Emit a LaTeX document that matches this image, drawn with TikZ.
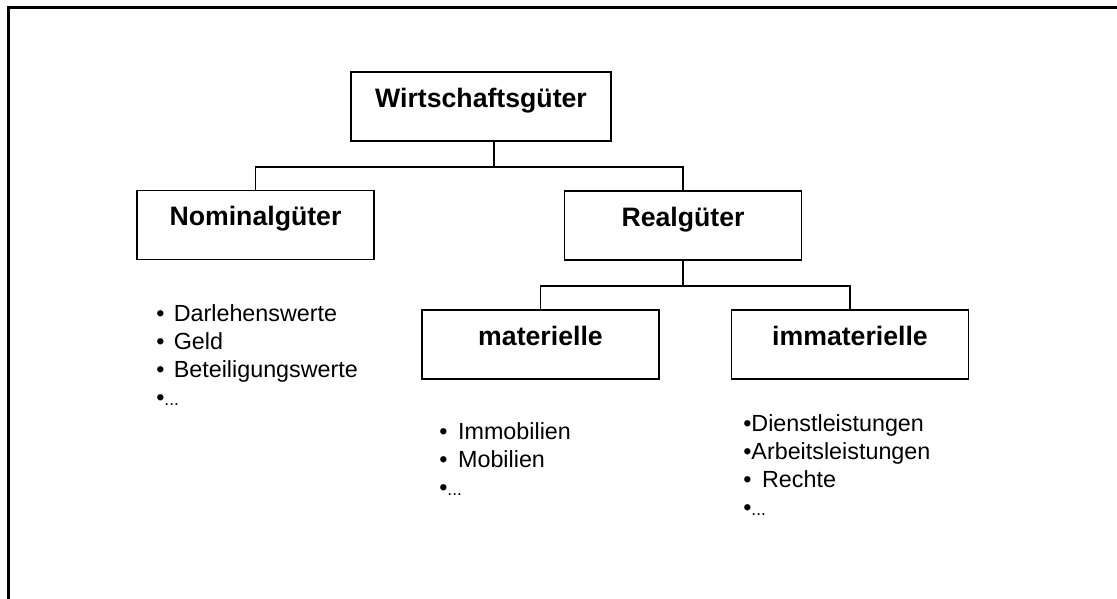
\documentclass[tikz,border=0pt]{standalone}
\usepackage{fontspec}
\setmainfont{Liberation Sans}
\begin{document}
\begin{tikzpicture}[x=0.75pt,y=-0.75pt,
  catbox/.style={draw, line width=1.1pt, inner sep=0pt,
    minimum width=177.5pt, minimum height=52pt,
    font=\fontsize{20}{24}\selectfont\bfseries,
    text height=14.3pt, text depth=13.5pt},
  conn/.style={draw, line width=1pt},
  itemlist/.style={inner sep=0pt, anchor=north west, align=left,
    font=\fontsize{17.5}{21}\selectfont},
  frameline/.style={line width=1.7pt}]
\useasboundingbox (0,0) rectangle (1117,599);
\fill[white] (0,0) rectangle (1117,599);

% outer frame (left and top edges)
\draw[frameline] (8.5,599) -- (8.5,7.5) -- (1117,7.5);

% category boxes
\node[catbox, minimum width=195pt] (W) at (481,106.5) {Wirtschaftsgüter};
\node[catbox] (N) at (255.5,225) {Nominalgüter};
\node[catbox] (R) at (683,225.5) {Realgüter};
\node[catbox] (M) at (540.5,344.5) {materielle};
\node[catbox] (I) at (850,344.5) {immaterielle};

% junction points of the tree
\coordinate (wj) at (494,167);
\coordinate (rj) at (683,286);

\draw[conn] ([xshift=9.75pt]W.south) -- (wj);
\draw[conn] (N.north) |- (wj) -| (R.north);
\draw[conn] (R.south) -- (rj);
\draw[conn] (M.north) |- (rj) -| (I.north);

% item lists
\newcommand{\dotsmall}{{\fontsize{13}{15}\selectfont ...}}
\node[itemlist] (nlist) at (156,304)
  {•\hspace{7pt}Darlehenswerte\\•\hspace{7pt}Geld\\•\hspace{7pt}Beteiligungswerte\\•\dotsmall};
\node[itemlist] (mlist) at (439,422)
  {•\hspace{8pt}Immobilien\\•\hspace{8pt}Mobilien\\•\dotsmall};
\node[itemlist] (ilist) at (743,414)
  {•Dienstleistungen\\•Arbeitsleistungen\\•\hspace{8pt}Rechte\\•\dotsmall};
\end{tikzpicture}
\end{document}
